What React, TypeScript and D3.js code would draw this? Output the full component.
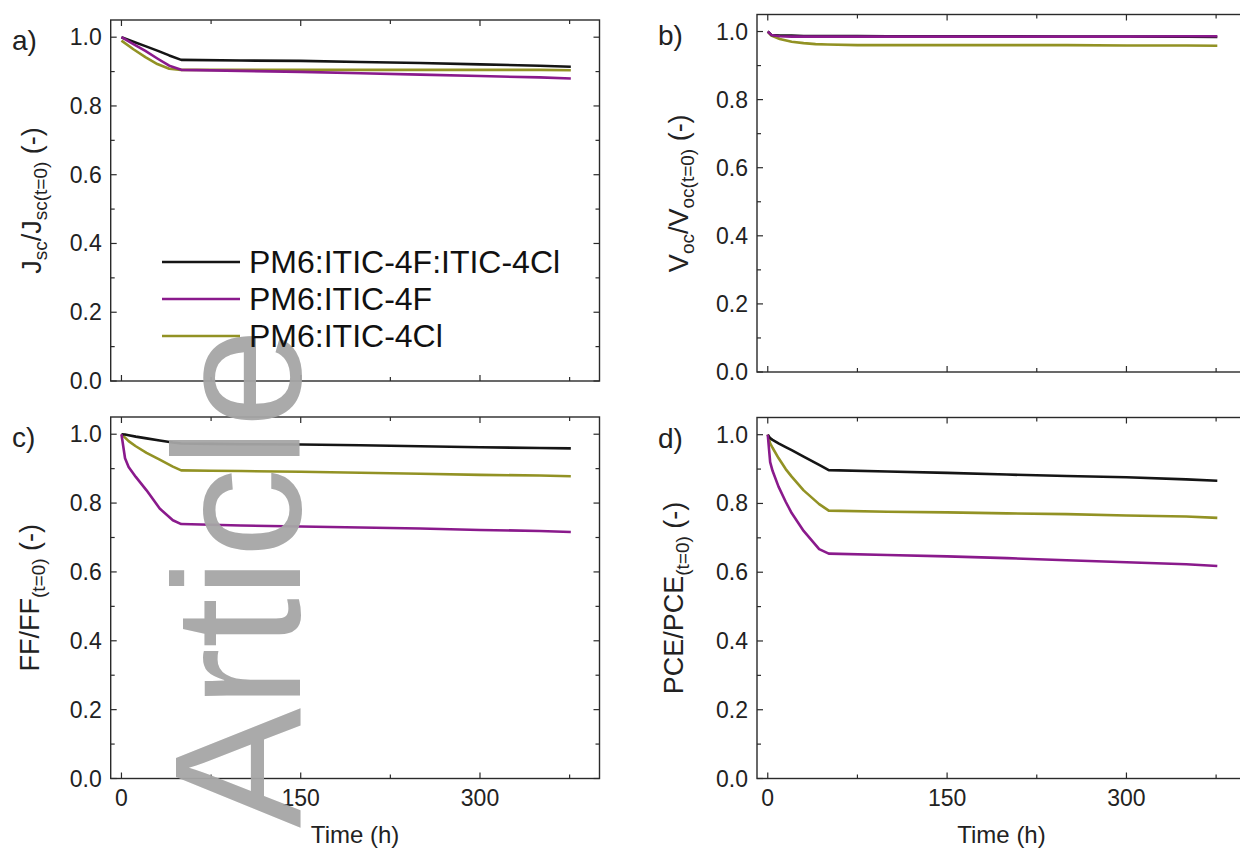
import React from "react";
import * as d3 from "d3";

// ---- data (normalised to t=0) ----
const seriesNames = ["PM6:ITIC-4F:ITIC-4Cl", "PM6:ITIC-4F", "PM6:ITIC-4Cl"];

const timeJsc = [0, 10, 20, 30, 40, 50, 100, 150, 200, 250, 300, 350, 376];
const jscBlack = [1.0, 0.987, 0.974, 0.961, 0.947, 0.934, 0.932, 0.931, 0.928, 0.925, 0.921, 0.917, 0.914];
const jscPurple = [1.0, 0.98, 0.96, 0.938, 0.917, 0.905, 0.902, 0.899, 0.895, 0.891, 0.887, 0.883, 0.88];
const jscOlive = [0.99, 0.965, 0.942, 0.922, 0.908, 0.905, 0.905, 0.905, 0.905, 0.905, 0.905, 0.905, 0.904];

const timeVoc = [0, 3, 10, 20, 30, 40, 50, 75, 100, 150, 200, 250, 300, 350, 376];
const vocBlack = [1.0, 0.99, 0.988, 0.988, 0.987, 0.987, 0.987, 0.987, 0.986, 0.986, 0.986, 0.985, 0.985, 0.985, 0.984];
const vocPurple = [1.0, 0.99, 0.986, 0.985, 0.985, 0.985, 0.985, 0.985, 0.985, 0.985, 0.985, 0.985, 0.985, 0.986, 0.986];
const vocOlive = [1.0, 0.988, 0.978, 0.97, 0.966, 0.963, 0.962, 0.96, 0.96, 0.96, 0.96, 0.96, 0.959, 0.959, 0.958];

const timeFF = [0, 3, 6, 12, 21, 32, 43, 50, 75, 100, 150, 200, 250, 300, 350, 376];
const ffBlack = [1.0, 0.999, 0.997, 0.993, 0.988, 0.982, 0.976, 0.973, 0.972, 0.971, 0.97, 0.968, 0.965, 0.962, 0.96, 0.959];
const ffPurple = [1.0, 0.93, 0.905, 0.876, 0.837, 0.784, 0.75, 0.739, 0.737, 0.735, 0.732, 0.729, 0.726, 0.722, 0.719, 0.716];
const ffOlive = [1.0, 0.99, 0.98, 0.965, 0.946, 0.926, 0.906, 0.895, 0.894, 0.893, 0.891, 0.888, 0.885, 0.882, 0.88, 0.878];

const timePCE = [0, 2, 4, 9, 15, 20, 30, 43, 51, 100, 150, 200, 250, 300, 350, 376];
const pceBlack = [1.0, 0.99, 0.985, 0.975, 0.964, 0.955, 0.936, 0.912, 0.897, 0.893, 0.889, 0.884, 0.88, 0.876, 0.87, 0.866];
const pcePurple = [1.0, 0.92, 0.895, 0.849, 0.805, 0.772, 0.72, 0.667, 0.654, 0.65, 0.646, 0.641, 0.635, 0.629, 0.623, 0.618];
const pceOlive = [1.0, 0.975, 0.962, 0.932, 0.9, 0.878, 0.838, 0.798, 0.779, 0.776, 0.774, 0.771, 0.769, 0.765, 0.762, 0.758];

const yMajor = [0, 0.2, 0.4, 0.6, 0.8, 1.0];
const yMinor = [0.1, 0.3, 0.5, 0.7, 0.9];
const xMajor = [0, 150, 300];
const xMinor = [75, 225, 375];

const COLORS = ["#151515", "#8a1a8c", "#929224"];
const FONT = "'Liberation Sans', Arial, Helvetica, sans-serif";

const panels = [
  {
    letter: "a)", x0: 110.7, x1: 599.5, y0: 20, y1: 381, times: timeJsc,
    values: [jscBlack, jscPurple, jscOlive], title: ["J", "sc", "/J", "sc(t=0)", " (-)"],
    titleX: 41, xLabels: false,
  },
  {
    letter: "b)", x0: 757, x1: 1246, y0: 14.5, y1: 372, times: timeVoc,
    values: [vocBlack, vocPurple, vocOlive], title: ["V", "oc", "/V", "oc(t=0)", " (-)"],
    titleX: 688, xLabels: false,
  },
  {
    letter: "c)", x0: 110.7, x1: 599.5, y0: 417, y1: 778.5, times: timeFF,
    values: [ffBlack, ffPurple, ffOlive], title: ["FF/FF", "(t=0)", " (-)"],
    titleX: 39, xLabels: true,
  },
  {
    letter: "d)", x0: 757, x1: 1246, y0: 417.5, y1: 778.5, times: timePCE,
    values: [pceBlack, pcePurple, pceOlive], title: ["PCE/PCE", "(t=0)", " (-)"],
    titleX: 683, xLabels: true,
  },
];

// alternating normal / subscript pieces
const Title = ({ parts }: { parts: string[] }) => {
  const leadingSub = parts[0] === "J" || parts[0] === "V";
  const sub = (i: number) => (leadingSub ? i % 2 === 1 : i === 1);
  return (
    <>
      {parts.map((p, i) => {
        const dy = sub(i) ? 6 : i > 0 && sub(i - 1) ? -6 : 0;
        return (
          <tspan key={i} dy={dy} fontSize={sub(i) ? 19 : 27}>
            {p}
          </tspan>
        );
      })}
    </>
  );
};

const PanelView = ({ p }: { p: (typeof panels)[number] }) => {
  const x = d3.scaleLinear().domain([-9, 400]).range([p.x0, p.x1]);
  const y = d3.scaleLinear().domain([0, 1.05]).range([p.y1, p.y0]);
  const line = d3
    .line<number>()
    .x((_, i) => x(p.times[i]))
    .y((v) => y(v));
  const order = [2, 0, 1];
  const cy = (p.y0 + p.y1) / 2;
  const frame = "#2a2a2a";

  return (
    <g>
      {order.map((k) => (
        <path
          key={k}
          d={line(p.values[k]) || ""}
          fill="none"
          stroke={COLORS[k]}
          strokeWidth={2.6}
          strokeLinejoin="round"
        />
      ))}
      <rect x={p.x0} y={p.y0} width={p.x1 - p.x0} height={p.y1 - p.y0} fill="none" stroke={frame} strokeWidth={1.4} />
      {yMajor.concat(yMinor).map((v) => {
        const len = yMajor.includes(v) ? 6 : 4;
        return (
          <g key={"y" + v} stroke={frame} strokeWidth={1.2}>
            <line x1={p.x0} x2={p.x0 + len} y1={y(v)} y2={y(v)} />
            <line x1={p.x1} x2={p.x1 - len} y1={y(v)} y2={y(v)} />
          </g>
        );
      })}
      {xMajor.concat(xMinor).map((t) => {
        const len = xMajor.includes(t) ? 6 : 4;
        return (
          <g key={"x" + t} stroke={frame} strokeWidth={1.2}>
            <line x1={x(t)} x2={x(t)} y1={p.y1} y2={p.y1 - len} />
            <line x1={x(t)} x2={x(t)} y1={p.y0} y2={p.y0 + len} />
          </g>
        );
      })}
      {yMajor.map((v) => (
        <text key={"yl" + v} x={p.x0 - 9} y={y(v) + 8} textAnchor="end" fontSize={23} fill="#222">
          {v.toFixed(1)}
        </text>
      ))}
      {p.xLabels &&
        xMajor.map((t) => (
          <text key={"xl" + t} x={x(t)} y={p.y1 + 27} textAnchor="middle" fontSize={23} fill="#222">
            {t}
          </text>
        ))}
      {p.xLabels && (
        <text x={(p.x0 + p.x1) / 2} y={843} textAnchor="middle" fontSize={24} fill="#222">
          Time (h)
        </text>
      )}
      <text transform={`translate(${p.titleX},${cy}) rotate(-90)`} textAnchor="middle" fill="#222">
        <Title parts={p.title} />
      </text>
      <text x={p.x0 < 300 ? 12 : 658} y={p.y0 + 30} fontSize={28} fill="#222">
        {p.letter}
      </text>
    </g>
  );
};

const Legend = () => {
  const rows = [262, 299, 336];
  return (
    <g>
      {seriesNames.map((name, i) => (
        <g key={name}>
          <line x1={162} x2={240} y1={rows[i]} y2={rows[i]} stroke={COLORS[i]} strokeWidth={2.6} />
          <text x={249} y={rows[i] + 11} fontSize={32} fill="#111">
            {name}
          </text>
        </g>
      ))}
    </g>
  );
};

const App = () => {
  return (
    <svg
      width={1240}
      height={852}
      style={{ position: "absolute", left: 0, top: 0, background: "#fff" }}
      fontFamily={FONT}
    >
      <style>{"body{margin:0;overflow:hidden}"}</style>
      <rect width={1240} height={852} fill="#fff" />
      {panels.map((p) => (
        <PanelView key={p.letter} p={p} />
      ))}
      <text transform="translate(300,828) rotate(-90)" fontSize={180} fill="#a6a6a6" opacity={0.95}>
        Article
      </text>
      <Legend />
    </svg>
  );
};

export default App;
